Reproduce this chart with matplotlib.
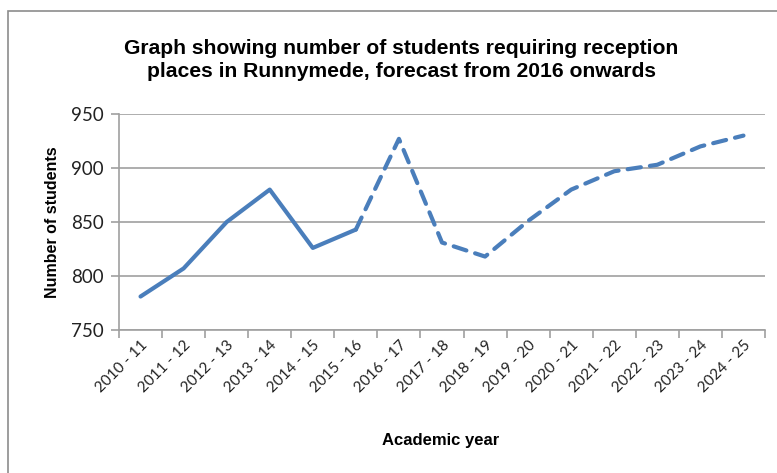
import matplotlib
matplotlib.use("Agg")
import matplotlib.pyplot as plt
from matplotlib.patches import Rectangle

# datos
years = ["2010 - 11", "2011 - 12", "2012 - 13", "2013 - 14", "2014 - 15",
         "2015 - 16", "2016 - 17", "2017 - 18", "2018 - 19", "2019 - 20",
         "2020 - 21", "2021 - 22", "2022 - 23", "2023 - 24", "2024 - 25"]
students = [781, 807, 850, 880, 826, 843, 927, 831, 818, 851,
            880, 897, 903, 920, 930]
last_actual = 5  # 2015-16, after this the forecast (dashed)
y_ticks = [750, 800, 850, 900, 950]

blue = "#4a7ebb"
grey = "#a0a0a0"
title_font = ["Liberation Sans Narrow", "Liberation Sans", "DejaVu Sans"]
tick_font = ["Lato", "DejaVu Sans"]

fig = plt.figure(figsize=(7.77, 4.73), dpi=100)
ax = fig.add_axes([119/777, 1 - 330/473, (765 - 119)/777, (330 - 114)/473])

x = list(range(len(years)))
ax.plot(x[:last_actual + 1], students[:last_actual + 1], color=blue, lw=3,
        solid_capstyle="round", solid_joinstyle="round", zorder=3)
ax.plot(x[last_actual:], students[last_actual:], color=blue, lw=3,
        dashes=(3.2, 2.2), dash_capstyle="round", zorder=3)

ax.set_xlim(-0.5, len(years) - 0.5)
ax.set_ylim(750, 950)
ax.set_yticks(y_ticks)
ax.yaxis.grid(True, color=grey, lw=1.2)
ax.set_axisbelow(True)

# ticks del eje x entre categorias
ax.set_xticks([i - 0.5 for i in range(len(years) + 1)])
ax.set_xticklabels([])
ax.set_xticks(x, minor=True)
ax.set_xticklabels(years, minor=True, rotation=45, ha="right",
                   rotation_mode="anchor", fontsize=11, family=tick_font,
                   color="#222222")
ax.tick_params(axis="x", which="minor", length=0, pad=6)
ax.tick_params(axis="x", which="major", length=6, color=grey, width=1.2)
ax.tick_params(axis="y", length=6, color=grey, width=1.2, labelsize=13.5,
               pad=5, labelcolor="#222222")
for lab in ax.get_yticklabels():
    lab.set_family(tick_font)

for s in ["top", "right"]:
    ax.spines[s].set_visible(False)
for s in ["left", "bottom"]:
    ax.spines[s].set_color(grey)
    ax.spines[s].set_linewidth(1.2)

fig.text(401/777, 1 - 60/473,
         "Graph showing number of students requiring reception\nplaces in Runnymede, forecast from 2016 onwards",
         ha="center", va="center", fontsize=15.2, fontweight="bold",
         family=title_font, linespacing=1.3)
ax.set_ylabel("Number of students", fontsize=11.5, fontweight="bold",
              family=title_font, labelpad=8)
fig.text(441/777, 1 - 440/473, "Academic year", ha="center", va="center",
         fontsize=12, fontweight="bold", family=title_font)

# borde del grafico
fig.patches.append(Rectangle((8/777, -0.05), 1.1, 1 - 11/473 + 0.05,
                             transform=fig.transFigure, fill=False,
                             edgecolor="#8c8c8c", lw=1.2))

fig.savefig("out.png", dpi=100)
